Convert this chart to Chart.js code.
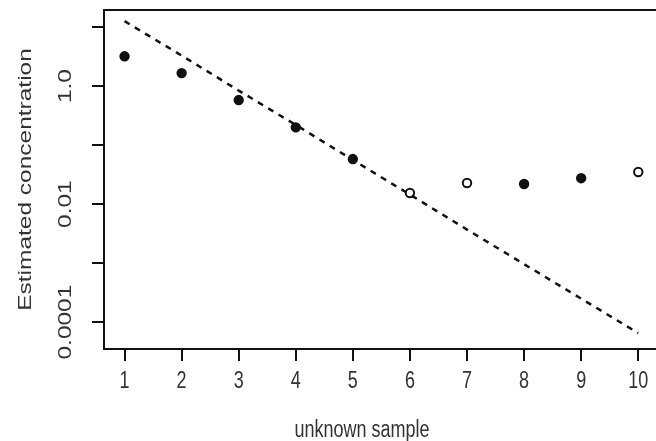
<!DOCTYPE html>
<html>
<head>
<meta charset="utf-8">
<script src="https://cdn.jsdelivr.net/npm/chart.js@4.4.1/dist/chart.umd.min.js"></script>
<style>
  html, body { margin: 0; padding: 0; background: #fff; overflow: hidden; }
  #wrap { width: 656px; height: 441px; overflow: hidden; }
</style>
</head>
<body>
<div id="wrap"><canvas id="chart" width="665" height="441"></canvas></div>
<script>
const samples = [1, 2, 3, 4, 5, 6, 7, 8, 9, 10];
const estimated = [3.2, 1.66, 0.58, 0.2, 0.058, 0.0154, 0.0228, 0.0219, 0.0275, 0.035];
const openMarker = [false, false, false, false, false, true, true, false, false, true];
const expected = [12.6, 3.3, 0.84, 0.22, 0.056, 0.0145, 0.0037, 0.00096, 0.00025, 0.000065];
const xTickLabels = ['1', '2', '3', '4', '5', '6', '7', '8', '9', '10'];
const yTickValues = [0.0001, 0.001, 0.01, 0.1, 1, 10];
const yTickLabels = ['0.0001', '', '0.01', '', '1.0', ''];

const FONT = '"Liberation Sans", Arial, sans-serif';
const STRETCH = 1.36; // the picture is taller than R drew it, text is stretched vertically

// draws text stretched in the vertical screen direction
function stretchedText(ctx, text, x, y, rotated) {
  ctx.save();
  ctx.translate(x, y);
  ctx.scale(1, STRETCH);
  if (rotated) ctx.rotate(-Math.PI / 2);
  ctx.fillText(text, 0, 0);
  ctx.restore();
}

const frame = {
  id: 'frame',
  afterDraw(chart) {
    const { ctx, chartArea: a, scales } = chart;
    ctx.save();
    ctx.strokeStyle = '#111';
    ctx.lineWidth = 2;
    ctx.beginPath();
    ctx.moveTo(a.left, a.top);
    ctx.lineTo(a.right, a.top);
    ctx.lineTo(a.right, a.bottom);
    ctx.stroke();

    ctx.fillStyle = '#333';
    ctx.font = '18px ' + FONT;
    ctx.textAlign = 'center';
    ctx.textBaseline = 'middle';
    yTickValues.forEach((v, i) => {
      if (yTickLabels[i]) stretchedText(ctx, yTickLabels[i], 66, scales.y.getPixelForValue(v), true);
    });
    samples.forEach((v, i) => {
      stretchedText(ctx, xTickLabels[i], scales.x.getPixelForValue(v), 381, false);
    });
    stretchedText(ctx, 'unknown sample', 362, 430, false);
    stretchedText(ctx, 'Estimated concentration', 26, (a.top + a.bottom) / 2, true);
    ctx.restore();
  }
};

new Chart(document.getElementById('chart'), {
  type: 'line',
  data: {
    datasets: [
      {
        label: 'expected',
        data: samples.map((x, i) => ({ x, y: expected[i] })),
        borderColor: '#111',
        borderWidth: 2.5,
        borderDash: [6, 6],
        pointRadius: 0,
        fill: false
      },
      {
        label: 'estimated',
        data: samples.map((x, i) => ({ x, y: estimated[i] })),
        showLine: false,
        pointRadius: 4.2,
        pointBorderWidth: 2,
        pointBorderColor: '#111',
        pointBackgroundColor: openMarker.map(o => o ? '#fff' : '#111')
      }
    ]
  },
  options: {
    responsive: false,
    animation: false,
    layout: { padding: { top: 10, right: 4, left: 0, bottom: 0 } },
    plugins: { legend: { display: false }, tooltip: { enabled: false } },
    scales: {
      x: {
        type: 'linear',
        min: 0.64,
        max: 10.36,
        afterBuildTicks: s => { s.ticks = samples.map(v => ({ value: v })); },
        afterFit: s => { s.height = 92; },
        grid: { drawOnChartArea: false, drawTicks: true, tickLength: 12, color: '#111', lineWidth: 2 },
        border: { display: true, color: '#111', width: 2 },
        ticks: { display: false }
      },
      y: {
        type: 'logarithmic',
        min: 0.000035,
        max: 19.5,
        afterBuildTicks: s => { s.ticks = yTickValues.map(v => ({ value: v })); },
        afterFit: s => { s.width = 104; },
        grid: { drawOnChartArea: false, drawTicks: true, tickLength: 12, color: '#111', lineWidth: 2 },
        border: { display: true, color: '#111', width: 2 },
        ticks: { display: false }
      }
    }
  },
  plugins: [frame]
});
</script>
</body>
</html>
